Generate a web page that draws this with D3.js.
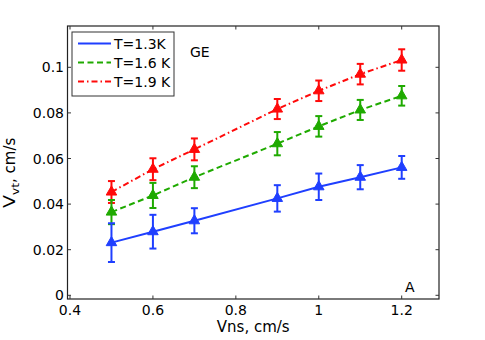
<!DOCTYPE html>
<html>
<meta charset="utf-8">
<style>
    body { margin: 0; background: #fff; }
    text { font-family: "DejaVu Sans", sans-serif; font-size: 14px; fill: #000; }
</style>
<body>
<script src="https://d3js.org/d3.v7.min.js"></script>
<script>

    // data
    var vns = [0.5, 0.6, 0.7, 0.9, 1.0, 1.1, 1.2];
    var v13 = [0.0231, 0.0279, 0.0327, 0.0425, 0.0476, 0.0518, 0.0561];
    var e13 = [0.0085, 0.0074, 0.0055, 0.0058, 0.0058, 0.0053, 0.0050];
    var v16 = [0.0365, 0.0438, 0.0518, 0.0665, 0.0741, 0.0813, 0.0875];
    var e16 = [0.0053, 0.0055, 0.0048, 0.0051, 0.0045, 0.0044, 0.0043];
    var v19 = [0.0453, 0.0553, 0.0640, 0.0817, 0.0897, 0.0970, 0.1032];
    var e19 = [0.0048, 0.0048, 0.0048, 0.0044, 0.0045, 0.0045, 0.0047];
    var seriesNames = ["T=1.3K", "T=1.6 K", "T=1.9 K"];
    var xTicks = [0.4, 0.6, 0.8, 1, 1.2];
    var yTicks = [0, 0.02, 0.04, 0.06, 0.08, 0.1];

    var series = [
        {name: seriesNames[0], y: v13, e: e13, color: "#1f3fff", dash: null},
        {name: seriesNames[1], y: v16, e: e16, color: "#1faa00", dash: "6,3.5"},
        {name: seriesNames[2], y: v19, e: e19, color: "#ff0a0a", dash: "6,3,1.5,3"}
    ];

    var W = 485, H = 340;
    var box = {left: 67.5, right: 439, top: 26, bottom: 299};

    var x = d3.scaleLinear().domain([0.4, 1.2]).range([70, 401.7]);
    var y = d3.scaleLinear().domain([0, 0.1]).range([295.3, 67.3]);

    var svg = d3.select("body").append("svg")
        .attr("width", W).attr("height", H);

    // axis box
    svg.append("rect")
        .attr("x", box.left).attr("y", box.top)
        .attr("width", box.right - box.left).attr("height", box.bottom - box.top)
        .attr("fill", "#fff").attr("stroke", "#222").attr("stroke-width", 1.2);

    var tl = 3.5;
    var ticks = svg.append("g").attr("stroke", "#333").attr("stroke-width", 1);
    xTicks.forEach(function(t) {
        ticks.append("line").attr("x1", x(t)).attr("x2", x(t))
            .attr("y1", box.bottom).attr("y2", box.bottom - tl);
        ticks.append("line").attr("x1", x(t)).attr("x2", x(t))
            .attr("y1", box.top).attr("y2", box.top + tl);
    });
    yTicks.forEach(function(t) {
        ticks.append("line").attr("x1", box.left).attr("x2", box.left + tl)
            .attr("y1", y(t)).attr("y2", y(t));
        ticks.append("line").attr("x1", box.right).attr("x2", box.right - tl)
            .attr("y1", y(t)).attr("y2", y(t));
    });

    svg.selectAll(".xl").data(xTicks).enter().append("text")
        .attr("x", function(d) { return x(d); })
        .attr("y", 315)
        .attr("text-anchor", "middle")
        .text(function(d) { return d3.format("")(d); });

    svg.selectAll(".yl").data(yTicks).enter().append("text")
        .attr("x", 64)
        .attr("y", function(d) { return y(d) + 5; })
        .attr("text-anchor", "end")
        .text(function(d) { return d3.format("")(d); });

    // axis titles
    svg.append("text")
        .attr("x", (box.left + box.right) / 2)
        .attr("y", 332)
        .attr("text-anchor", "middle")
        .style("font-size", "15px")
        .text("Vns, cm/s");

    var yl = svg.append("text")
        .attr("transform", "translate(15,208) rotate(-90)")
        .attr("text-anchor", "start")
        .style("font-size", "15px");
    yl.append("tspan").attr("textLength", 13).attr("lengthAdjust", "spacingAndGlyphs").text("V");
    yl.append("tspan").attr("dy", 4).style("font-size", "11px")
        .attr("textLength", 12).attr("lengthAdjust", "spacingAndGlyphs").text("vt");
    yl.append("tspan").attr("dy", -4).text(", cm/s");

    // lines, error bars, markers
    var line = d3.line()
        .x(function(d, i) { return x(vns[i]); })
        .y(function(d) { return y(d); });

    var tri = d3.symbol().type(d3.symbolTriangle).size(48);

    series.slice().reverse().forEach(function(s) {
        var g = svg.append("g");
        g.append("path")
            .attr("d", line(s.y))
            .attr("fill", "none")
            .attr("stroke", s.color)
            .attr("stroke-width", 2)
            .attr("stroke-dasharray", s.dash);

        vns.forEach(function(v, i) {
            var cx = x(v), y0 = y(s.y[i] - s.e[i]), y1 = y(s.y[i] + s.e[i]);
            g.append("line").attr("x1", cx).attr("x2", cx).attr("y1", y0).attr("y2", y1)
                .attr("stroke", s.color).attr("stroke-width", 2);
            g.append("line").attr("x1", cx - 3.5).attr("x2", cx + 3.5).attr("y1", y0).attr("y2", y0)
                .attr("stroke", s.color).attr("stroke-width", 2);
            g.append("line").attr("x1", cx - 3.5).attr("x2", cx + 3.5).attr("y1", y1).attr("y2", y1)
                .attr("stroke", s.color).attr("stroke-width", 2);
            g.append("path")
                .attr("d", tri)
                .attr("transform", "translate(" + cx + "," + y(s.y[i]) + ")")
                .attr("fill", s.color)
                .attr("stroke", s.color)
                .attr("stroke-width", 1);
        });
    });

    // legend
    var lg = svg.append("g");
    lg.append("rect")
        .attr("x", 72).attr("y", 32).attr("width", 102).attr("height", 64)
        .attr("fill", "#fff").attr("stroke", "#333").attr("stroke-width", 1);
    var rows = [43.5, 62.5, 81.5];
    series.forEach(function(s, i) {
        lg.append("line")
            .attr("x1", 78).attr("x2", 111).attr("y1", rows[i]).attr("y2", rows[i])
            .attr("stroke", s.color).attr("stroke-width", 2)
            .attr("stroke-dasharray", s.dash);
        lg.append("text")
            .attr("x", 114).attr("y", rows[i] + 5)
            .text(s.name);
    });

    svg.append("text").attr("x", 190).attr("y", 57).text("GE");
    svg.append("text").attr("x", 405).attr("y", 292).text("A");

</script>
</body>
</html>
